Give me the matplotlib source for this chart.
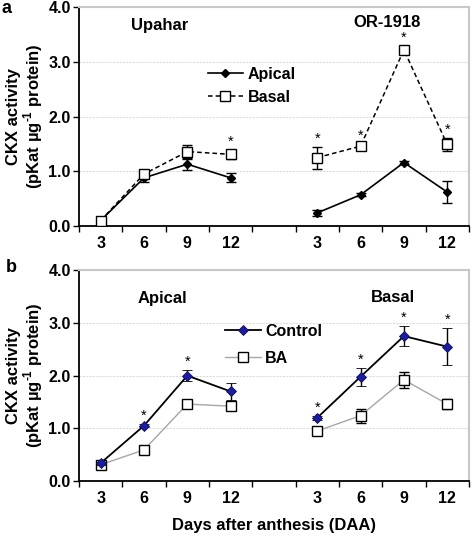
import matplotlib
matplotlib.use("Agg")
import matplotlib.pyplot as plt
import numpy as np

plt.rcParams['font.family'] = ['Liberation Sans', 'DejaVu Sans']
plt.rcParams['font.weight'] = 'bold'
plt.rcParams['mathtext.fontset'] = 'custom'
plt.rcParams['mathtext.rm'] = 'Liberation Sans:bold'
plt.rcParams['mathtext.bf'] = 'Liberation Sans:bold'

nan = np.nan
# 9 category slots: 4 for first group, blank, 4 for second group
tick_labels = ["3", "6", "9", "12", "", "3", "6", "9", "12"]

# panel a: Upahar (slots 0-3), OR-1918 (slots 5-8)
apical_a = [0.10, 0.88, 1.13, 0.88, nan, 0.24, 0.57, 1.16, 0.62]
apical_a_err = [0.03, 0.07, 0.10, 0.08, nan, 0.05, 0.03, 0.03, 0.20]
basal_a = [0.10, 0.95, 1.36, 1.31, nan, 1.25, 1.46, 3.22, 1.49]
basal_a_err = [0.03, 0.04, 0.12, 0.08, nan, 0.20, 0.04, 0.07, 0.12]
star_a = [False, False, False, True, False, True, True, True, True]

# panel b: Apical (slots 0-3), Basal (slots 5-8)
control_b = [0.34, 1.05, 2.00, 1.70, nan, 1.20, 1.98, 2.75, 2.55]
control_b_err = [0.03, 0.03, 0.10, 0.16, nan, 0.04, 0.17, 0.19, 0.35]
ba_b = [0.31, 0.59, 1.46, 1.42, nan, 0.95, 1.24, 1.92, 1.46]
ba_b_err = [0.03, 0.06, 0.07, 0.08, nan, 0.02, 0.13, 0.15, 0.10]
star_b = [False, True, True, False, False, True, True, True, True]

x = np.arange(len(tick_labels))

fig = plt.figure(figsize=(4.72, 5.39), dpi=100)
ax1 = fig.add_axes([0.1674, 0.5807, 0.826, 0.406])
ax2 = fig.add_axes([0.1674, 0.1076, 0.826, 0.391])


def style_axis(ax):
    ax.set_xlim(-0.5, 8.5)
    ax.set_ylim(0, 4)
    ax.set_yticks([0, 1, 2, 3, 4])
    ax.set_yticklabels(["0.0", "1.0", "2.0", "3.0", "4.0"], fontsize=11.5, fontweight='bold')
    ax.set_xticks(x)
    ax.set_xticklabels(tick_labels, fontsize=11.5, fontweight='bold')
    ax.set_xticks(np.arange(-0.5, 9, 1), minor=True)
    ax.tick_params(axis='x', which='major', length=0, pad=7)
    ax.tick_params(axis='x', which='minor', length=4, width=1, direction='out')
    ax.tick_params(axis='y', length=4, width=1, direction='out', pad=2)
    for s in ['left', 'bottom']:
        ax.spines[s].set_linewidth(1.3)
    for s in ['top', 'right']:
        ax.spines[s].set_color('#c8c8c8')
        ax.spines[s].set_linewidth(1.5)
    ax.grid(axis='y', color='#dcdcdc', linewidth=0.8, linestyle=(0, (2, 1)))
    ax.set_axisbelow(True)
    ax.set_ylabel("CKX activity\n(pKat µg$^{\\text{-1}}$ protein)", fontsize=12,
                  fontweight='bold', linespacing=1.0)
    ax.yaxis.set_label_coords(-0.088, 0.5)


def add_stars(ax, vals, errs, flags):
    for xi, v, e, f in zip(x, vals, errs, flags):
        if f:
            ax.annotate("*", (xi, v + e), xytext=(0, 1), textcoords='offset points',
                        ha='center', va='bottom', fontsize=10.5, fontweight='normal')


# panel a
style_axis(ax1)
ax1.errorbar(x, apical_a, yerr=apical_a_err, color='black', lw=1.2, marker='D',
             markersize=4.5, mfc='black', mec='black', ecolor='black', elinewidth=1,
             capsize=3.5, capthick=1, label='Apical', zorder=3)
ax1.errorbar(x, basal_a, yerr=basal_a_err, color='black', lw=1.1, ls=(0, (3, 2)), marker='s',
             markersize=7, mfc='white', mec='black', mew=1, ecolor='black', elinewidth=1,
             capsize=3.5, capthick=1, label='Basal', zorder=4)
add_stars(ax1, basal_a, basal_a_err, star_a)
ax1.text(1.35, 3.67, "Upahar", ha='center', va='center', fontsize=12, fontweight='bold')
ax1.text(6.6, 3.72, "OR-1918", ha='center', va='center', fontsize=12, fontweight='bold')
handles, labels = ax1.get_legend_handles_labels()
handles = [h[0] for h in handles]
ax1.legend(handles, labels, loc='upper left', bbox_to_anchor=(0.31, 0.765), frameon=False,
           handlelength=2.2, handletextpad=0.3, labelspacing=0.5,
           borderpad=0, prop={'weight': 'bold', 'size': 11.5})

# panel b
style_axis(ax2)
ax2.errorbar(x, control_b, yerr=control_b_err, color='black', lw=1.3, marker='D',
             markersize=5, mfc='#1c1c9c', mec='#10105a', mew=0.6, ecolor='black',
             elinewidth=1, capsize=3.5, capthick=1, label='Control', zorder=4)
ax2.errorbar(x, ba_b, yerr=ba_b_err, color='#a6a6a6', lw=1.0, marker='s',
             markersize=7, mfc='white', mec='black', mew=1, ecolor='black', elinewidth=1,
             capsize=3.5, capthick=1, label='BA', zorder=3)
add_stars(ax2, control_b, control_b_err, star_b)
ax2.text(1.42, 3.47, "Apical", ha='center', va='center', fontsize=12, fontweight='bold')
ax2.text(6.75, 3.49, "Basal", ha='center', va='center', fontsize=12, fontweight='bold')
handles, labels = ax2.get_legend_handles_labels()
handles = [h[0] for h in handles]
ax2.legend(handles, labels, loc='upper left', bbox_to_anchor=(0.355, 0.785), frameon=False,
           handlelength=2.2, handletextpad=0.3, labelspacing=0.75,
           borderpad=0, prop={'weight': 'bold', 'size': 11.5})
ax2.set_xlabel("Days after anthesis (DAA)", fontsize=12, fontweight='bold', labelpad=9)

fig.text(0.004, 0.985, "a", fontsize=13, fontweight='bold', va='center')
fig.text(0.012, 0.503, "b", fontsize=13, fontweight='bold', va='center')

fig.savefig("out.png", dpi=100)
